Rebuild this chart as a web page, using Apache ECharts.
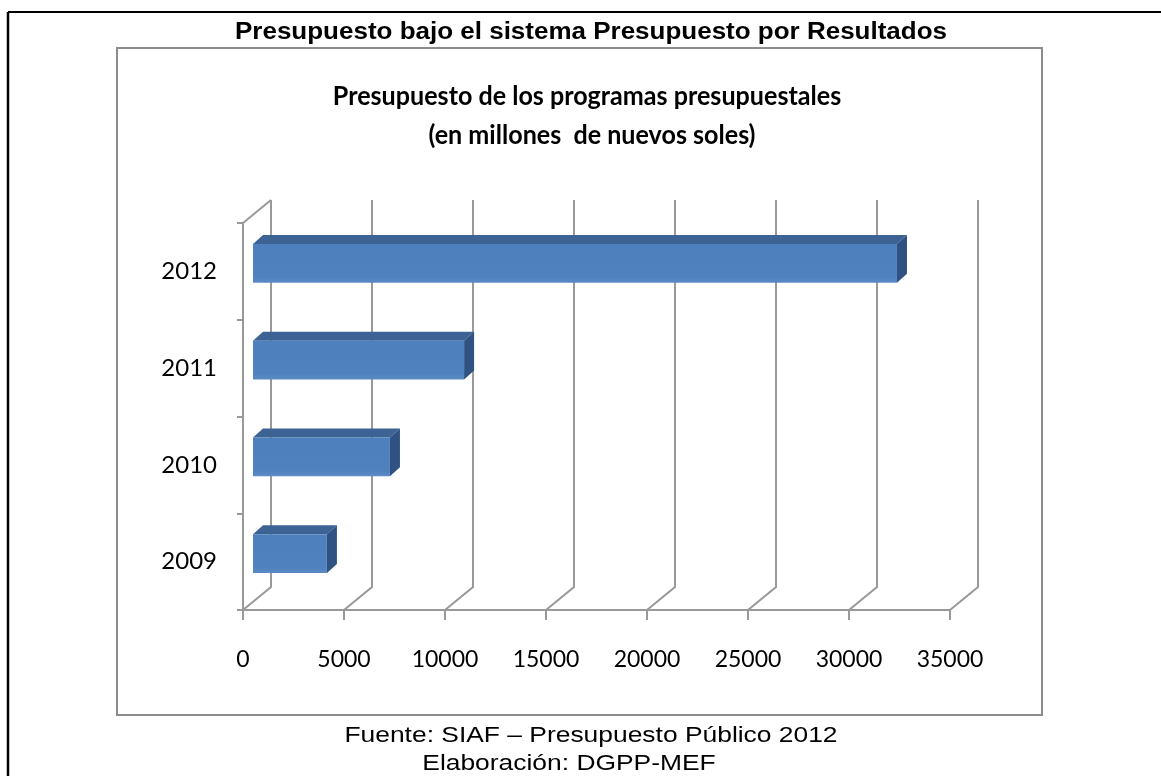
<!DOCTYPE html>
<html>
<head>
<meta charset="utf-8">
<title>Presupuesto por Resultados</title>
<script src="https://cdn.jsdelivr.net/npm/echarts@6.0.0/dist/echarts.min.js"></script>
<style>
    html, body {
        margin: 0;
        padding: 0;
        background: #fff;
    }

    #chart {
        width: 1161px;
        height: 776px;
    }
</style>
</head>
<body>
<div id="chart"></div>
<script>
// datos del gráfico (millones de nuevos soles)
const years = ['2009', '2010', '2011', '2012']
const budget = [3660, 6780, 10450, 31880]
const gridTicks = [0, 5000, 10000, 15000, 20000, 25000, 30000, 35000]

// desplazamientos para el efecto 3D (profundidad del plano de fondo y de la barra)
const DX = 28, DY = -23
const F_DX = 10, F_DY = -8     // cara frontal de la barra
const B_DX = 20, B_DY = -17    // cara trasera de la barra
const GRID_COLOR = '#999999'

const chart = echarts.init(document.getElementById('chart'))

// líneas de cuadrícula en perspectiva
function renderGridLine(params, api) {
    const cs = params.coordSys
    const x = api.coord([api.value(0), 0])[0]
    const top = cs.y
    const bottom = cs.y + cs.height
    const lineStyle = { stroke: GRID_COLOR, lineWidth: 2, fill: null }
    const children = [{
        type: 'polyline',
        shape: { points: [[x + DX, top + DY], [x + DX, bottom + DY], [x, bottom]] },
        style: lineStyle
    }]
    if (params.dataIndex === 0) {
        children.push({
            type: 'line',
            shape: { x1: cs.x, y1: top, x2: cs.x + DX, y2: top + DY },
            style: lineStyle
        })
    }
    return { type: 'group', children }
}

// barra horizontal con caras frontal, superior y lateral
function renderBar(params, api) {
    const c = api.value(1)
    const p0 = api.coord([0, c])
    const p1 = api.coord([api.value(0), c])
    const h = api.size([0, 1])[1] * 0.2
    const x0 = p0[0] + F_DX
    const x1 = p1[0] + F_DX
    const yt = p0[1] - h + F_DY
    const yb = p0[1] + h + F_DY
    const bx = B_DX - F_DX
    const by = B_DY - F_DY
    return {
        type: 'group',
        children: [
            {
                type: 'polygon',
                shape: { points: [[x0, yt], [x1, yt], [x1 + bx, yt + by], [x0 + bx, yt + by]] },
                style: { fill: '#3c6393' }
            },
            {
                type: 'polygon',
                shape: { points: [[x1, yt], [x1 + bx, yt + by], [x1 + bx, yb + by], [x1, yb]] },
                style: { fill: '#2f5282' }
            },
            {
                type: 'rect',
                shape: { x: x0, y: yt, width: x1 - x0, height: yb - yt },
                style: {
                    fill: new echarts.graphic.LinearGradient(0, 0, 0, 1, [
                        { offset: 0, color: '#4e80bd' },
                        { offset: 0.85, color: '#4f81be' },
                        { offset: 1, color: '#5b8bc4' }
                    ])
                }
            }
        ]
    }
}

const options = {
    animation: false,
    backgroundColor: '#fff',
    grid: {
        left: 243,
        top: 223,
        right: 211,
        bottom: 166,
        containLabel: false,
        outerBoundsMode: 'none'
    },
    xAxis: {
        type: 'value',
        min: 0,
        max: 35000,
        interval: 5000,
        axisLine: { show: true, lineStyle: { color: GRID_COLOR, width: 2 } },
        axisTick: { show: true, length: 10, lineStyle: { color: GRID_COLOR, width: 2 } },
        splitLine: { show: false },
        axisLabel: {
            margin: 38,
            color: '#000',
            fontSize: 23,
            fontFamily: 'Lato',
            formatter: v => String(v)
        }
    },
    yAxis: {
        type: 'category',
        data: years,
        axisLine: { show: true, lineStyle: { color: GRID_COLOR, width: 2 } },
        axisTick: { show: true, length: 6, lineStyle: { color: GRID_COLOR, width: 2 } },
        splitLine: { show: false },
        axisLabel: {
            margin: 26,
            color: '#000',
            fontSize: 24,
            fontFamily: 'Lato'
        }
    },
    series: [
        {
            type: 'custom',
            z: 1,
            silent: true,
            renderItem: renderGridLine,
            encode: { x: 0 },
            data: gridTicks.map(v => [v])
        },
        {
            type: 'custom',
            z: 3,
            renderItem: renderBar,
            encode: { x: 0, y: 1 },
            data: budget.map((v, i) => [v, i])
        }
    ],
    graphic: [
        // marco exterior negro (arriba e izquierda)
        {
            type: 'line',
            shape: { x1: 8, y1: 12, x2: 1161, y2: 12 },
            style: { stroke: '#000', lineWidth: 2 }
        },
        {
            type: 'line',
            shape: { x1: 8, y1: 12, x2: 8, y2: 776 },
            style: { stroke: '#000', lineWidth: 2.5 }
        },
        // recuadro gris del gráfico
        {
            type: 'rect',
            shape: { x: 117, y: 48, width: 925, height: 667 },
            style: { fill: null, stroke: '#8c8c8c', lineWidth: 2 }
        },
        {
            type: 'text',
            x: 591,
            y: 33,
            scaleX: 1.13,
            style: {
                text: 'Presupuesto bajo el sistema Presupuesto por Resultados',
                x: 0,
                y: 0,
                textAlign: 'center',
                textVerticalAlign: 'middle',
                font: 'bold 23px "Liberation Sans"',
                fill: '#000'
            }
        },
        {
            type: 'text',
            x: 587,
            y: 96,
            scaleX: 0.93,
            style: {
                text: 'Presupuesto de los programas presupuestales',
                x: 0,
                y: 0,
                textAlign: 'center',
                textVerticalAlign: 'middle',
                font: 'bold 27px Lato',
                fill: '#000'
            }
        },
        {
            type: 'text',
            x: 592,
            y: 135,
            scaleX: 0.93,
            style: {
                text: '(en millones  de nuevos soles)',
                x: 0,
                y: 0,
                textAlign: 'center',
                textVerticalAlign: 'middle',
                font: 'bold 27px Lato',
                fill: '#000'
            }
        },
        {
            type: 'text',
            x: 591,
            y: 736,
            scaleX: 1.2,
            style: {
                text: 'Fuente: SIAF – Presupuesto Público 2012',
                x: 0,
                y: 0,
                textAlign: 'center',
                textVerticalAlign: 'middle',
                font: '22px "Liberation Sans"',
                fill: '#000'
            }
        },
        {
            type: 'text',
            x: 569,
            y: 764,
            scaleX: 1.2,
            style: {
                text: 'Elaboración: DGPP-MEF',
                x: 0,
                y: 0,
                textAlign: 'center',
                textVerticalAlign: 'middle',
                font: '22px "Liberation Sans"',
                fill: '#000'
            }
        }
    ]
}

chart.setOption(options)
</script>
</body>
</html>
